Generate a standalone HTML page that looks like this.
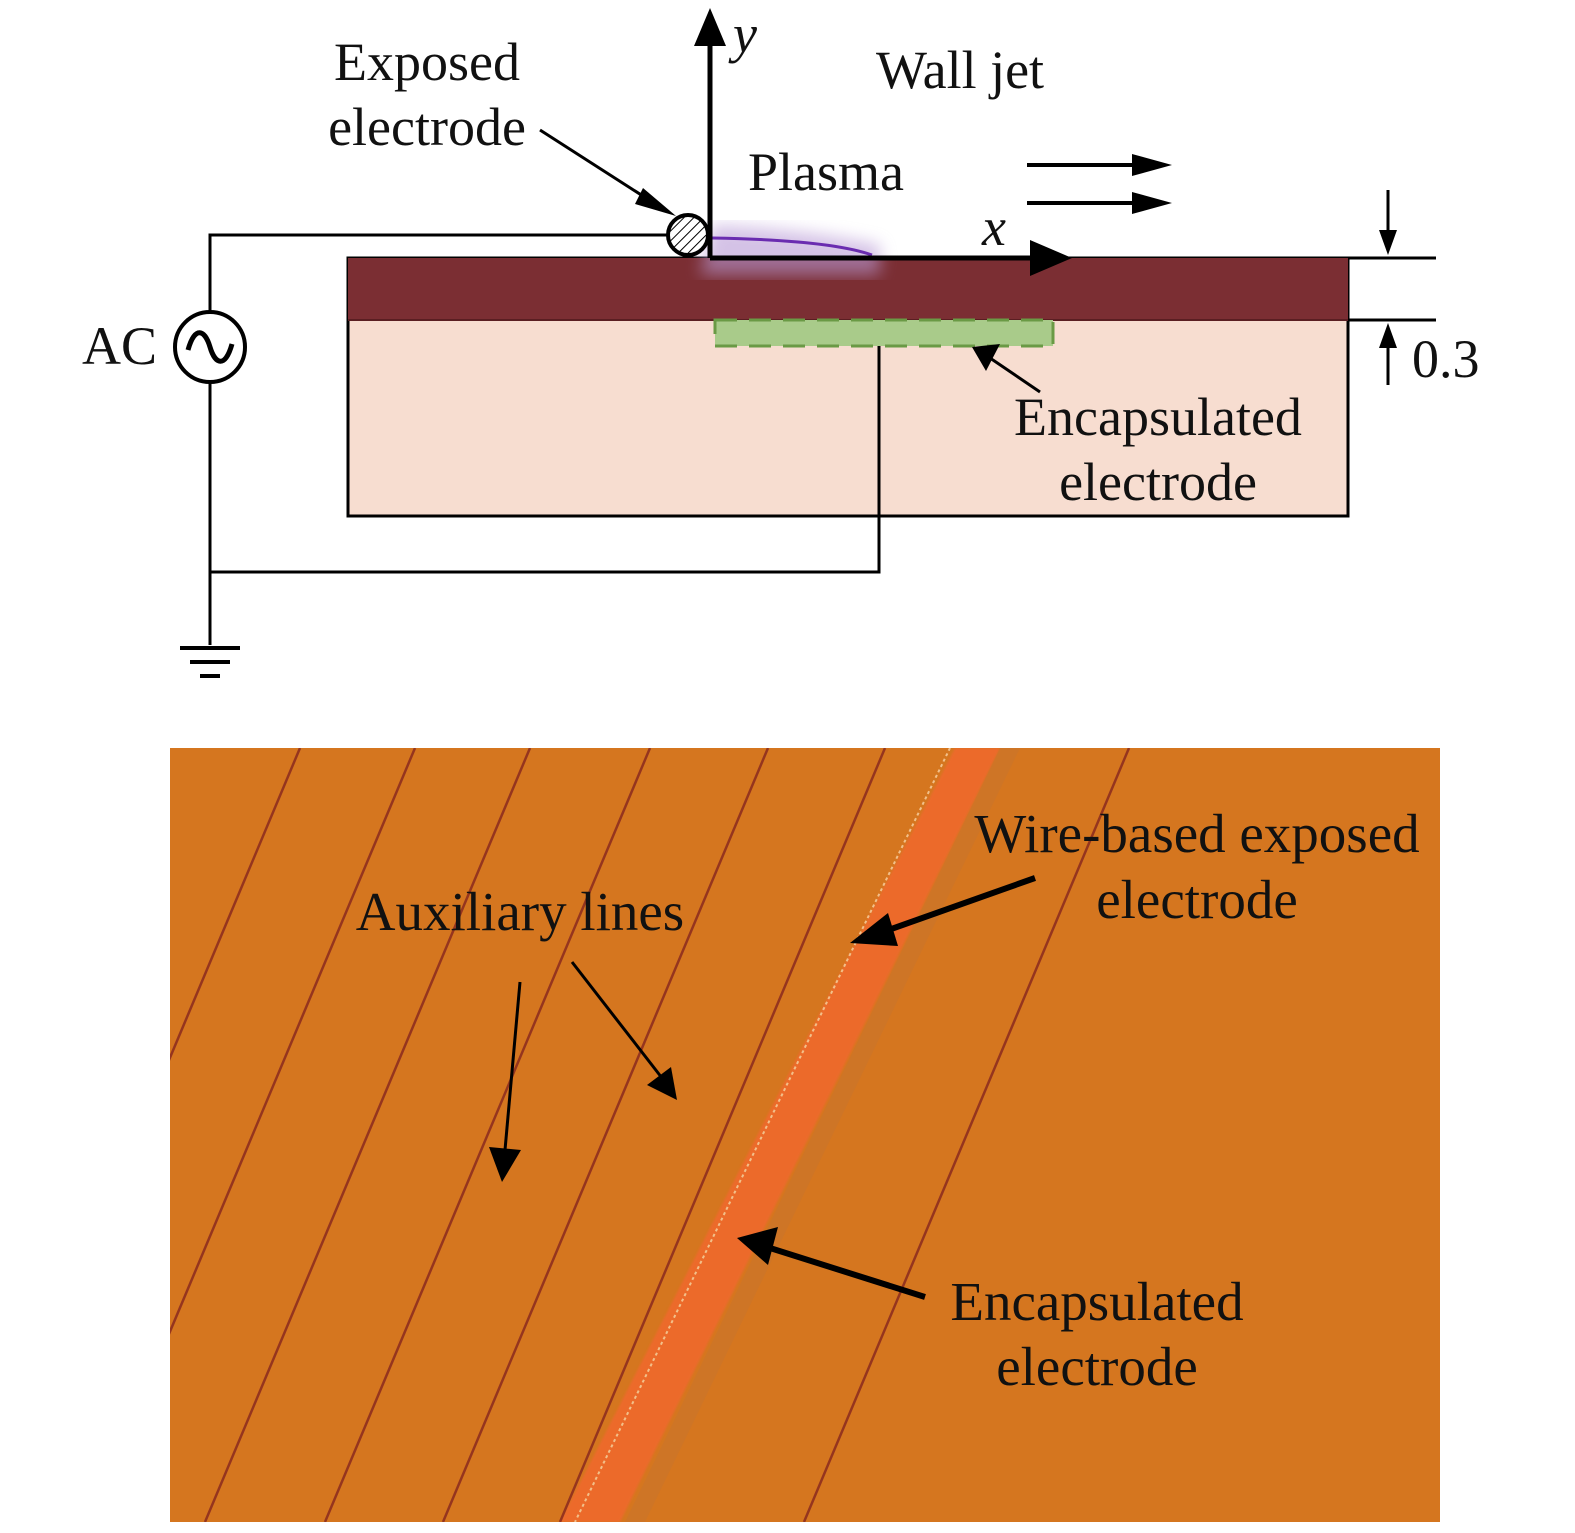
<!DOCTYPE html>
<html><head><meta charset="utf-8"><style>
html,body{margin:0;padding:0;background:#fff}
svg{display:block}
text{font-family:"Liberation Serif",serif;fill:#111}
</style></head><body>
<svg width="1575" height="1533" viewBox="0 0 1575 1533" xmlns="http://www.w3.org/2000/svg">
<defs>
<pattern id="hatch" width="7" height="7" patternUnits="userSpaceOnUse" patternTransform="rotate(45)"><rect width="7" height="7" fill="#fff"/><line x1="0" y1="0" x2="0" y2="7" stroke="#000" stroke-width="2"/></pattern>
<filter id="blur"><feGaussianBlur stdDeviation="8"/></filter>
<filter id="pblur"><feGaussianBlur stdDeviation="1"/></filter>
<clipPath id="pc"><rect x="170" y="748" width="1270" height="774"/></clipPath>
</defs>
<rect x="348" y="258" width="1000" height="258" fill="#f7ddd0" stroke="#000" stroke-width="3"/>
<rect x="348" y="258" width="1000" height="62" fill="#7b2e33"/>
<line x1="348" y1="320" x2="1348" y2="320" stroke="#5a1e22" stroke-width="2"/>
<path d="M712,225 Q800,228 880,245 L880,275 L700,275 Z" fill="#b89ad6" opacity="0.6" filter="url(#blur)"/>
<path d="M712,238 Q830,240 872,255" fill="none" stroke="#6a2cb0" stroke-width="3"/>
<rect x="715" y="320" width="338" height="26" fill="#a9cb8a" stroke="#6a9a45" stroke-width="3" stroke-dasharray="22,12"/>
<polyline points="670,235 210,235 210,312" fill="none" stroke="#000" stroke-width="3"/>
<polyline points="210,382 210,645" fill="none" stroke="#000" stroke-width="3"/>
<polyline points="210,572 879,572 879,346" fill="none" stroke="#000" stroke-width="3"/>
<circle cx="210" cy="347" r="35" fill="#fff" stroke="#000" stroke-width="4"/>
<path d="M188,350 C195,325 205,330 210,347 C215,364 225,369 232,344" fill="none" stroke="#000" stroke-width="5"/>
<line x1="180" y1="648" x2="240" y2="648" stroke="#000" stroke-width="4"/>
<line x1="190" y1="662" x2="230" y2="662" stroke="#000" stroke-width="4"/>
<line x1="200" y1="676" x2="220" y2="676" stroke="#000" stroke-width="4"/>
<line x1="710" y1="258" x2="710" y2="42" stroke="#000" stroke-width="5"/>
<path d="M694,46 L710,8 L726,46 Z" fill="#000"/>
<line x1="710" y1="258" x2="1040" y2="258" stroke="#000" stroke-width="5"/>
<path d="M1030,240 L1072,258 L1030,276 Z" fill="#000"/>
<circle cx="688" cy="235" r="20" fill="url(#hatch)" stroke="#000" stroke-width="4"/>
<line x1="1027" y1="165" x2="1140" y2="165" stroke="#000" stroke-width="4"/>
<path d="M1132,154 L1172,165 L1132,176 Z" fill="#000"/>
<line x1="1027" y1="203" x2="1140" y2="203" stroke="#000" stroke-width="4"/>
<path d="M1132,192 L1172,203 L1132,214 Z" fill="#000"/>
<line x1="1348" y1="258" x2="1436" y2="258" stroke="#000" stroke-width="3"/>
<line x1="1348" y1="320" x2="1436" y2="320" stroke="#000" stroke-width="3"/>
<line x1="1388" y1="190" x2="1388" y2="235" stroke="#000" stroke-width="3"/>
<path d="M1379,230 L1388,255 L1397,230 Z" fill="#000"/>
<line x1="1388" y1="385" x2="1388" y2="345" stroke="#000" stroke-width="3"/>
<path d="M1379,348 L1388,323 L1397,348 Z" fill="#000"/>
<line x1="540" y1="130" x2="660" y2="207" stroke="#000" stroke-width="3"/>
<path d="M643,188 L676,216 L635,204 Z" fill="#000"/>
<line x1="1040" y1="392" x2="990" y2="358" stroke="#000" stroke-width="3"/>
<path d="M1000,344 L972,347 L986,371 Z" fill="#000"/>
<g font-size="54">
<text x="427" y="80" text-anchor="middle">Exposed</text>
<text x="427" y="145" text-anchor="middle">electrode</text>
<text x="960" y="88" text-anchor="middle">Wall jet</text>
<text x="748" y="190">Plasma</text>
<text x="733" y="52" font-style="italic">y</text>
<text x="982" y="245" font-style="italic">x</text>
<text x="82" y="364">AC</text>
<text x="1412" y="377">0.3</text>
<text x="1158" y="435" text-anchor="middle">Encapsulated</text>
<text x="1158" y="500" text-anchor="middle">electrode</text>
</g>
<g clip-path="url(#pc)">
<rect x="170" y="748" width="1270" height="774" fill="#d5761f"/>
<polygon points="955,748 1000,748 620,1522 560,1522" fill="#ec6a2a" filter="url(#pblur)"/>
<line x1="950" y1="748" x2="575" y2="1522" stroke="#f2c08a" stroke-width="2" stroke-dasharray="3,3"/>
<polygon points="1000,748 1020,748 645,1522 625,1522" fill="#c9752b" opacity="0.6"/>
<g stroke="#8a2a1e" stroke-width="2.5" opacity="0.85">
<line x1="415" y1="748" x2="90" y2="1522"/>
<line x1="530" y1="748" x2="205" y2="1522"/>
<line x1="650" y1="748" x2="325" y2="1522"/>
<line x1="768" y1="748" x2="443" y2="1522"/>
<line x1="885" y1="748" x2="560" y2="1522"/>
<line x1="1129" y1="748" x2="804" y2="1522"/>
<line x1="300" y1="748" x2="-25" y2="1522"/>
</g>
</g>
<line x1="1035" y1="878" x2="880" y2="933" stroke="#000" stroke-width="6"/>
<path d="M888,913 L850,943 L898,946 Z" fill="#000"/>
<line x1="925" y1="1297" x2="770" y2="1248" stroke="#000" stroke-width="6"/>
<path d="M778,1227 L737,1238 L768,1265 Z" fill="#000"/>
<line x1="520" y1="982" x2="505" y2="1150" stroke="#000" stroke-width="3"/>
<path d="M489,1147 L502,1182 L521,1150 Z" fill="#000"/>
<line x1="572" y1="962" x2="662" y2="1078" stroke="#000" stroke-width="3"/>
<path d="M647,1085 L677,1100 L671,1067 Z" fill="#000"/>
<g font-size="55">
<text x="1197" y="852" text-anchor="middle">Wire-based exposed</text>
<text x="1197" y="918" text-anchor="middle">electrode</text>
<text x="520" y="930" text-anchor="middle">Auxiliary lines</text>
<text x="1097" y="1320" text-anchor="middle">Encapsulated</text>
<text x="1097" y="1385" text-anchor="middle">electrode</text>
</g>
</svg>
</body></html>
